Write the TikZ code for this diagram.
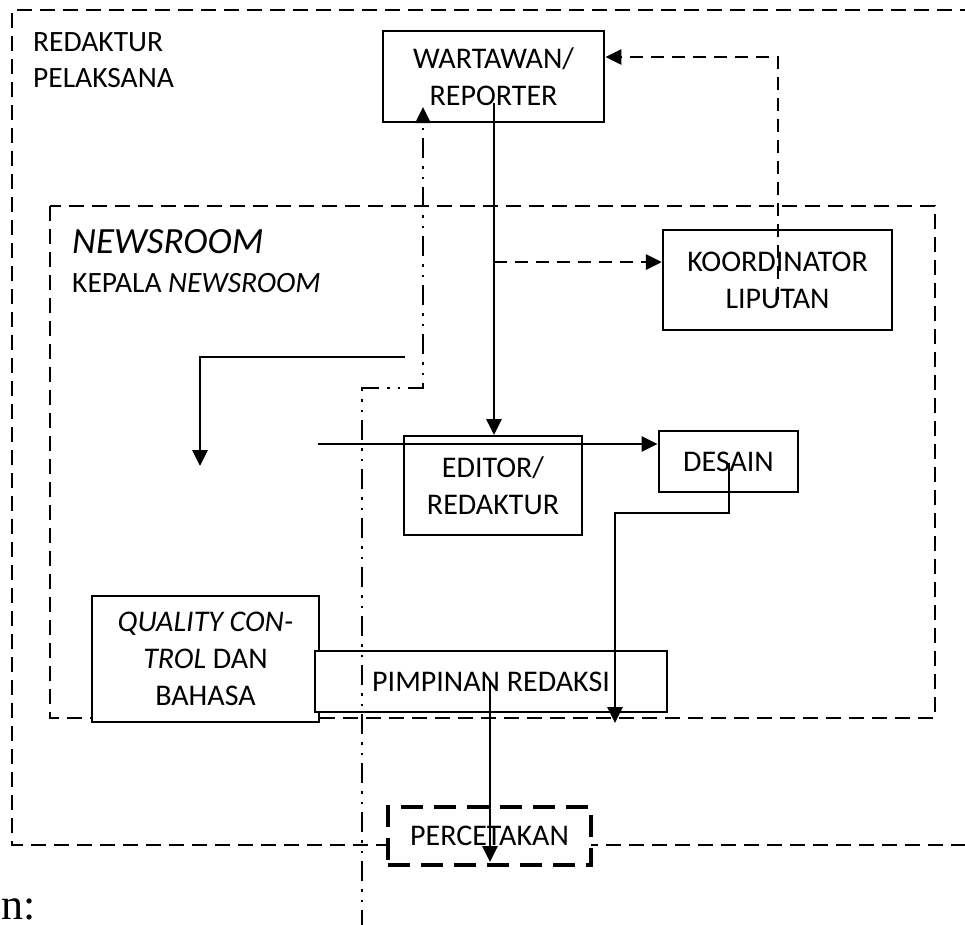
\documentclass[tikz,border=0pt]{standalone}
\usepackage{fontspec}
\setmainfont{Carlito}
\newfontfamily\notefont{Liberation Serif}
\usetikzlibrary{arrows.meta}

\begin{document}
\begin{tikzpicture}
[   x=1pt, y=-1pt,
    box/.style={draw=black,line width=#1,fill=white,align=center,inner sep=0pt,
        font=\fontsize{30}{37}\selectfont},
    box/.default=2.6pt,
    lbl/.style={align=left,inner sep=0pt,anchor=north west,font=\fontsize{29.5}{36}\selectfont},
    flow/.style={line width=2.9pt,-{Triangle[length=16pt,width=15pt]}},
    dflow/.style={flow,dash pattern=on 13pt off 8pt},
    ddflow/.style={flow,line width=2.6pt,dash pattern=on 20pt off 8pt on 2.5pt off 8pt on 2.5pt off 8pt},
    area/.style={line width=2.5pt,dash pattern=on 15pt off 8pt},
]
    \useasboundingbox (0,0) rectangle (965,924);

    \draw[area] (975,10) -- (12,10) -- (12,845) -- (975,845);
    \draw[area] (50,206) rectangle (935,718);
    \node[lbl] (redpel) at (33,32) {REDAKTUR\\PELAKSANA};
    \node[lbl,font=\fontsize{37}{42}\selectfont\itshape] (newsroom) at (72,229) {NEWSROOM};
    \node[lbl] (kepala) at (72,273) {KEPALA \textit{NEWSROOM}};

    \node[box=1.8pt,minimum width=178pt,minimum height=99pt] (editor) at (493,485.5) {EDITOR/\\REDAKTUR};
    \node[box=2.9pt,minimum width=139pt,minimum height=61pt] (desain) at (728.5,461.5) {DESAIN};
    \node[box=2.9pt,minimum width=221pt,minimum height=91pt] (wartawan) at (493.5,76.5) {WARTAWAN/\\REPORTER};
    \node[box=2.2pt,minimum width=229pt,minimum height=100pt] (koord) at (777.5,280) {KOORDINATOR\\LIPUTAN};
    \node[box,minimum width=227pt,minimum height=126pt] (qc) at (205.5,659)
        {\textit{QUALITY CON-}\\\textit{TROL} DAN\\BAHASA};
    \node[box,minimum width=352pt,minimum height=61pt] (pimpinan) at (491,681.5) {PIMPINAN REDAKSI};
    \node[box=4.8pt,dash pattern=on 22pt off 11pt,minimum width=203pt,minimum height=58pt] (percetakan)
        at (489.5,836) {PERCETAKAN};
    \node[inner sep=0pt,anchor=base west,font=\notefont\fontsize{44}{50}\selectfont] (ket) at (1,919) {n:};

    \coordinate (w-out) at (494,103);
    \coordinate (k-out) at (778,300);
    \coordinate (dd-start) at (362,930);
    \coordinate (dd-end) at (423,107);
    \coordinate (e-in) at (318,444);
    \coordinate (l-start) at (405,357);
    \coordinate (l-end) at (200,466);
    \coordinate (d-out) at (729,463);
    \coordinate (d-end) at (615,723);
    \coordinate (p-out) at (490,682);

    \draw[flow] (w-out) -- (w-out |- editor.north);
    \draw[dflow] (w-out |- 0,262) -- (koord.west |- 0,262);
    \draw[dflow] (k-out) |- (wartawan.east |- 0,57);
    \draw[ddflow] (dd-start) |- (dd-end |- 0,388) -- (dd-end);
    \draw[flow] (e-in) -- (desain.west |- e-in);
    \draw[flow] (l-start) -| (l-end);
    \draw[flow] (d-out) -- (d-out |- 0,513) -| (d-end);
    \draw[flow] (p-out) -- (p-out |- 0,862);
\end{tikzpicture}
\end{document}
